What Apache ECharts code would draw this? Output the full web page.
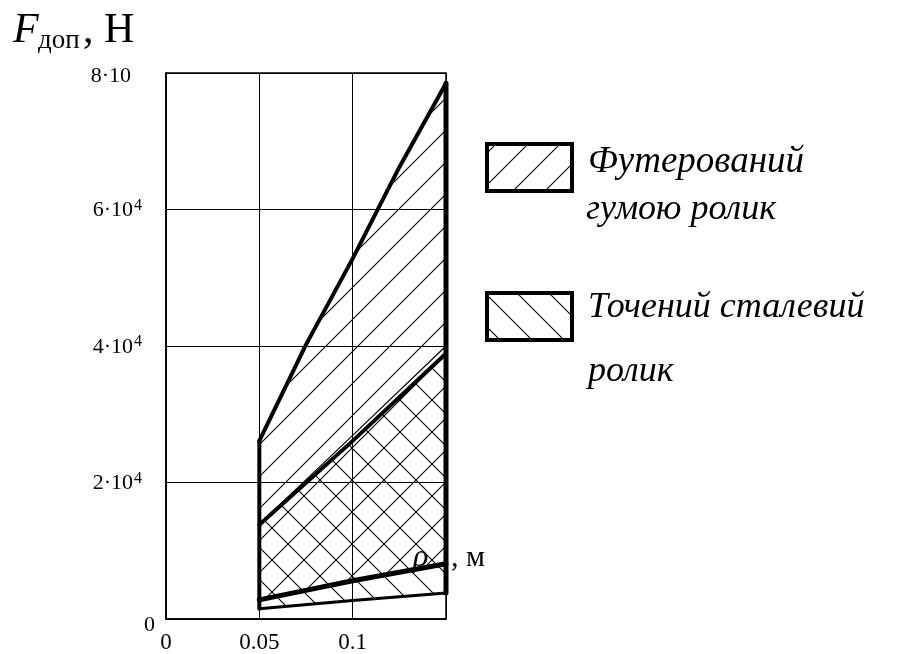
<!DOCTYPE html>
<html>
<head>
<meta charset="utf-8">
<script src="https://cdn.jsdelivr.net/npm/echarts@6/dist/echarts.min.js"></script>
<style>html,body{margin:0;padding:0;background:#fff}#c{width:902px;height:654px}</style>
</head>
<body>
<div id="c"></div>
<script>
// ---- data ----
const rhoCurve = [0.05, 0.075, 0.1, 0.125, 0.15];
const rubberUpper = [26100, 40200, 52800, 66200, 78500];   // Футерований гумою ролик, upper bound
const rhoLine = [0.05, 0.1, 0.15];
const rubberLower = [2800, 5600, 8100];                    // Футерований гумою ролик, lower bound
const steelUpper = [13800, 26100, 38900];                  // Точений сталевий ролик, upper bound
const steelUpperThin = [13900, 26900, 40000];              // thin companion line
const steelLower = [1500, 2700, 3800];                     // Точений сталевий ролик, lower bound
const xTickValues = [0, 0.05, 0.1, 0.15];
const xTickText = ['0', '0.05', '0.1', ''];
const yTickValues = [0, 20000, 40000, 60000, 80000];
const yTickText = ['0', '2·10', '4·10', '6·10', '8·10'];
const yTickExp = ['', '4', '4', '4', ''];
const legendNames = [['Футерований', 'гумою ролик'], ['Точений сталевий', 'ролик']];

const SERIF = '"Liberation Serif","Times New Roman",serif';

function hatch(dir, size) {
  const c = document.createElement('canvas');
  c.width = size; c.height = size;
  const g = c.getContext('2d');
  g.strokeStyle = '#000'; g.lineWidth = 1.1;
  g.beginPath();
  const h = size / 2;
  if (dir > 0) {
    g.moveTo(0, size); g.lineTo(size, 0);
    g.moveTo(-h, h); g.lineTo(h, -h);
    g.moveTo(h, size + h); g.lineTo(size + h, h);
  } else {
    g.moveTo(0, 0); g.lineTo(size, size);
    g.moveTo(-h, h); g.lineTo(h, size + h);
    g.moveTo(h, -h); g.lineTo(size + h, h);
  }
  g.stroke();
  return { image: c, repeat: 'repeat' };
}
const patFwd = hatch(1, 32);
const patBack = hatch(-1, 32);

const rubberPoly = rhoCurve.map((x, i) => [x, rubberUpper[i]])
  .concat(rhoLine.map((x, i) => [x, rubberLower[i]]).reverse());
const steelPoly = rhoLine.map((x, i) => [x, steelUpper[i]])
  .concat(rhoLine.map((x, i) => [x, steelLower[i]]).reverse());

function polySeries(poly, pat) {
  return {
    type: 'custom', silent: true, z: 1,
    data: [0],
    renderItem: function (params, api) {
      const pts = poly.map(p => api.coord(p));
      return { type: 'polygon', shape: { points: pts }, style: { fill: pat, stroke: null } };
    }
  };
}
function lineSeries(xs, ys, w) {
  return {
    type: 'line', silent: true, z: 3, symbol: 'none', animation: false,
    data: xs.map((x, i) => [x, ys[i]]),
    lineStyle: { color: '#000', width: w, cap: 'round', join: 'round' }
  };
}
const n = rhoLine.length - 1;

const chart = echarts.init(document.getElementById('c'), null, { renderer: 'canvas' });
chart.setOption({
  animation: false,
  backgroundColor: '#fff',
  grid: { left: 166, right: 456, top: 73, bottom: 32, show: true, borderColor: '#000', borderWidth: 1.5, backgroundColor: 'transparent' },
  xAxis: {
    type: 'value', min: 0, max: 0.15, interval: 0.05,
    axisLine: { show: true, onZero: false, lineStyle: { color: '#000', width: 1.5 } },
    axisTick: { show: false },
    splitLine: { show: true, lineStyle: { color: '#000', width: 1 } },
    axisLabel: {
      margin: 12, color: '#000', fontFamily: SERIF, fontSize: 23,
      formatter: v => { const i = xTickValues.findIndex(t => Math.abs(t - v) < 1e-9); return i >= 0 ? xTickText[i] : ''; }
    }
  },
  yAxis: {
    type: 'value', min: 0, max: 80000, interval: 20000,
    axisLine: { show: true, lineStyle: { color: '#000', width: 1.5 } },
    axisTick: { show: false },
    splitLine: { show: true, lineStyle: { color: '#000', width: 1 } },
    axisLabel: {
      margin: 11, color: '#000', fontFamily: SERIF,
      formatter: v => {
        const i = yTickValues.indexOf(v);
        if (i < 0) return '';
        if (i === 0) return '{z|' + yTickText[i] + '}';
        if (!yTickExp[i]) return '{t|' + yTickText[i] + '}';
        return '{a|' + yTickText[i] + '}{s|' + yTickExp[i] + '}';
      },
      rich: {
        z: { fontFamily: SERIF, fontSize: 22, color: '#000', lineHeight: 22, padding: [12, 0, 0, 0] },
        a: { fontFamily: SERIF, fontSize: 22, color: '#000', lineHeight: 24, verticalAlign: 'bottom' },
        t: { fontFamily: SERIF, fontSize: 22, color: '#000', lineHeight: 22, padding: [7, 24, 0, 0] },
        s: { fontFamily: SERIF, fontSize: 16, color: '#000', lineHeight: 16, verticalAlign: 'top', padding: [0, 13, 0, 1] }
      }
    }
  },
  series: [
    polySeries(rubberPoly, patFwd),
    polySeries(steelPoly, patBack),
    lineSeries(rhoCurve, rubberUpper, 4),
    lineSeries(rhoLine, steelUpper, 4),
    lineSeries(rhoLine, steelUpperThin, 1.2),
    lineSeries(rhoLine, rubberLower, 5),
    lineSeries(rhoLine, steelLower, 3),
    lineSeries([rhoLine[0], rhoLine[0]], [steelLower[0], rubberUpper[0]], 4),
    lineSeries([rhoLine[n], rhoLine[n]], [steelLower[n], rubberUpper[rubberUpper.length - 1]], 5)
  ],
  graphic: [
    { type: 'text', left: 13, top: 10, style: { text: 'F', font: 'italic 42px ' + SERIF, fill: '#000' } },
    { type: 'text', left: 38, top: 27, style: { text: 'доп', font: '27px ' + SERIF, fill: '#000' } },
    { type: 'text', left: 83, top: 10, style: { text: ', Н', font: '42px ' + SERIF, fill: '#000' } },
    { type: 'text', left: 413, top: 542, style: { text: 'ρ', font: 'italic 32px ' + SERIF, fill: '#000' } },
    { type: 'text', left: 451, top: 543, style: { text: ', м', font: '30px ' + SERIF, fill: '#000' } },
    { type: 'rect', shape: { x: 487, y: 144, width: 85, height: 47 }, style: { fill: patFwd, stroke: '#000', lineWidth: 4 } },
    { type: 'rect', shape: { x: 487, y: 293, width: 85, height: 47 }, style: { fill: patBack, stroke: '#000', lineWidth: 4 } },
    { type: 'text', left: 588, top: 144, style: { text: legendNames[0][0], font: 'italic 37px ' + SERIF, fill: '#000' } },
    { type: 'text', left: 586, top: 192, style: { text: legendNames[0][1], font: 'italic 36px ' + SERIF, fill: '#000' } },
    { type: 'text', left: 588, top: 290, style: { text: legendNames[1][0], font: 'italic 36px ' + SERIF, fill: '#000' } },
    { type: 'text', left: 588, top: 354, style: { text: legendNames[1][1], font: 'italic 36px ' + SERIF, fill: '#000' } }
  ]
});
</script>
</body>
</html>
